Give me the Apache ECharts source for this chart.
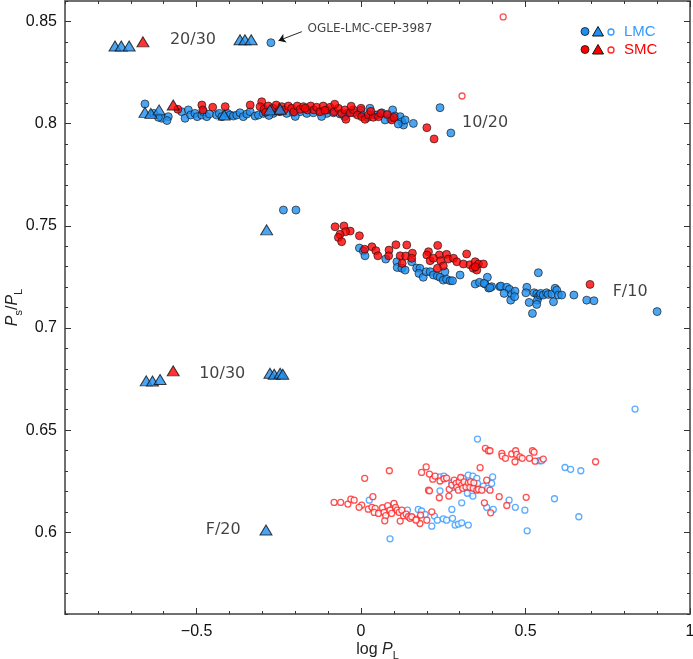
<!DOCTYPE html>
<html>
<head>
<meta charset="utf-8">
<script src="https://cdn.jsdelivr.net/npm/echarts@6/dist/echarts.min.js"></script>
<style>
  html, body { margin: 0; padding: 0; background: #fff; }
  #main { width: 693px; height: 659px; }
</style>
</head>
<body>
<div id="main"></div>
<script>
// axis ticks
var xMajor = [-0.5, 0, 0.5, 1];
var yMajor = [0.6, 0.65, 0.7, 0.75, 0.8, 0.85];

// LMC filled circles (10/20, F/10 and OGLE-LMC-CEP-3987)
var lmcFilled = [
  [-0.274, 0.8396],
  [-0.657, 0.8096], [-0.606, 0.8026], [-0.586, 0.8034], [-0.616, 0.8031], [-0.545, 0.8058], [-0.535, 0.8026],
  [-0.525, 0.8067], [-0.518, 0.8042], [-0.505, 0.805], [-0.498, 0.8034], [-0.484, 0.8042], [-0.479, 0.8058],
  [-0.469, 0.8034], [-0.461, 0.8047], [-0.439, 0.8042], [-0.431, 0.805], [-0.423, 0.8034], [-0.406, 0.805],
  [-0.398, 0.8042], [-0.388, 0.8037], [-0.378, 0.8042], [-0.368, 0.8053], [-0.358, 0.8034], [-0.347, 0.8047],
  [-0.337, 0.8058], [-0.322, 0.8037], [-0.312, 0.8042], [-0.297, 0.805], [-0.267, 0.805], [-0.246, 0.8058],
  [-0.226, 0.805], [-0.206, 0.8053], [-0.185, 0.8058], [-0.165, 0.805], [-0.145, 0.8053], [-0.125, 0.8058],
  [-0.104, 0.805], [-0.084, 0.8053], [-0.064, 0.8047], [-0.043, 0.805], [-0.023, 0.8053], [-0.003, 0.805],
  [0.027, 0.8075], [0.043, 0.8042], [0.048, 0.8042], [0.063, 0.8053], [0.078, 0.8042], [0.096, 0.8067],
  [0.103, 0.8037], [0.119, 0.8034], [0.124, 0.8009], [0.129, 0.7993], [0.134, 0.8018], [0.159, 0.8001],
  [0.088, 0.8026], [0.073, 0.8018], [0.113, 0.7998], [0.240, 0.8078], [0.273, 0.7954],
  [-0.05, 0.8035], [0.0, 0.8065], [0.02, 0.803], [-0.12, 0.8035], [-0.2, 0.8035], [-0.28, 0.804],
  [-0.59, 0.8015], [-0.63, 0.805],
  [-0.236, 0.7577], [-0.198, 0.7577], [-0.005, 0.7391], [0.007, 0.7376], [0.012, 0.7353], [0.075, 0.7337],
  [0.109, 0.7324], [0.110, 0.7296], [0.124, 0.7292], [0.134, 0.7283], [0.154, 0.7324], [0.169, 0.7293],
  [0.179, 0.7292], [0.176, 0.7267], [0.189, 0.7248], [0.198, 0.7275], [0.210, 0.7275], [0.220, 0.7259],
  [0.232, 0.7254], [0.240, 0.7248], [0.255, 0.7275], [0.250, 0.7234], [0.260, 0.7238], [0.271, 0.7231],
  [0.278, 0.7231], [0.301, 0.7259], [0.347, 0.7215], [0.360, 0.7223], [0.377, 0.7215], [0.384, 0.7248],
  [0.388, 0.7195], [0.397, 0.7202], [0.422, 0.7202], [0.374, 0.7218], [0.392, 0.7197], [0.425, 0.7205],
  [0.443, 0.7199], [0.451, 0.7189], [0.435, 0.7169], [0.458, 0.7164], [0.468, 0.718], [0.455, 0.7136],
  [0.467, 0.7153], [0.504, 0.7199], [0.501, 0.7172], [0.539, 0.727], [0.511, 0.7125], [0.521, 0.7071],
  [0.526, 0.7172], [0.534, 0.7166], [0.539, 0.7153], [0.536, 0.7136], [0.534, 0.7115], [0.544, 0.716],
  [0.546, 0.7169], [0.554, 0.7161], [0.564, 0.7172], [0.569, 0.7164], [0.580, 0.7166], [0.585, 0.7128],
  [0.590, 0.7194], [0.595, 0.7185], [0.600, 0.7161], [0.610, 0.7161], [0.647, 0.7161], [0.686, 0.7136],
  [0.708, 0.7133], [0.9, 0.708]
];

// SMC filled circles (10/20 and F/10)
var smcFilled = [
  [-0.557, 0.807], [-0.484, 0.8091], [-0.481, 0.8067], [-0.451, 0.808], [-0.413, 0.8083], [-0.337, 0.8091],
  [-0.302, 0.8107], [-0.307, 0.8083], [-0.295, 0.807], [-0.282, 0.8086], [-0.267, 0.8075], [-0.258, 0.8091],
  [-0.241, 0.8083], [-0.234, 0.8067], [-0.221, 0.8086], [-0.211, 0.8075], [-0.204, 0.8058], [-0.194, 0.8086],
  [-0.185, 0.807], [-0.175, 0.8083], [-0.163, 0.8067], [-0.153, 0.8086], [-0.143, 0.8067], [-0.135, 0.808],
  [-0.125, 0.8058], [-0.115, 0.8086], [-0.104, 0.8067], [-0.094, 0.808], [-0.082, 0.8058], [-0.069, 0.8075],
  [-0.059, 0.805], [-0.049, 0.8067], [-0.046, 0.8021], [-0.033, 0.8053], [-0.023, 0.8067], [-0.011, 0.8042],
  [0.002, 0.8034], [0.012, 0.8021], [0.022, 0.8042], [0.037, 0.8031], [0.053, 0.8034], [0.093, 0.8018],
  [0.2, 0.798], [0.222, 0.7925],
  [-0.08, 0.8095], [-0.03, 0.8085], [0.0, 0.8075], [0.03, 0.806], [-0.11, 0.8065], [-0.17, 0.8075],
  [-0.25, 0.806], [-0.29, 0.8055], [0.06, 0.805], [0.08, 0.8045], [0.1, 0.803],
  [-0.079, 0.7495], [-0.052, 0.7499], [-0.033, 0.7474], [-0.047, 0.7471], [-0.064, 0.7458], [-0.069, 0.7443],
  [-0.059, 0.7422], [-0.005, 0.7451], [0.011, 0.7385], [0.033, 0.7397], [0.045, 0.7378], [0.051, 0.7353],
  [0.085, 0.7381], [0.084, 0.7353], [0.106, 0.7407], [0.139, 0.7406], [0.119, 0.7353], [0.136, 0.7352],
  [0.156, 0.7366], [0.154, 0.7341], [0.125, 0.7316], [0.205, 0.7373], [0.200, 0.7357], [0.210, 0.7329],
  [0.238, 0.7357], [0.233, 0.7404], [0.220, 0.7341], [0.260, 0.736], [0.265, 0.7337], [0.242, 0.7329],
  [0.281, 0.7341], [0.291, 0.7324], [0.250, 0.7303], [0.232, 0.7292], [0.321, 0.7362], [0.311, 0.7313],
  [0.331, 0.7309], [0.347, 0.7324], [0.357, 0.7313], [0.372, 0.7313], [0.341, 0.7292], [0.352, 0.7283],
  [0.347, 0.7299], [0.696, 0.7213]
];

var lmcTriangles = [
  [-0.748, 0.838], [-0.729, 0.838], [-0.705, 0.838], [-0.368, 0.841], [-0.353, 0.841], [-0.334, 0.841],
  [-0.657, 0.8055], [-0.639, 0.805], [-0.614, 0.8067], [-0.416, 0.8042], [-0.277, 0.8067], [-0.246, 0.807],
  [-0.287, 0.748],
  [-0.653, 0.6741], [-0.634, 0.674], [-0.611, 0.6748], [-0.277, 0.6778], [-0.264, 0.6773], [-0.246, 0.6778],
  [-0.238, 0.6773],
  [-0.289, 0.6011]
];

var smcTriangles = [[-0.663, 0.840], [-0.571, 0.8091], [-0.571, 0.679]];

// open circles (the PS/PL ~ 0.60-0.65 sequence)
var lmcOpen = [
  [0.025, 0.6157], [0.088, 0.5968], [0.100, 0.6138], [0.141, 0.6108], [0.174, 0.6112], [0.184, 0.6104],
  [0.195, 0.6087], [0.215, 0.603], [0.223, 0.6079], [0.232, 0.6059], [0.250, 0.6066], [0.260, 0.6059],
  [0.276, 0.6112], [0.278, 0.6068], [0.286, 0.6035], [0.296, 0.604], [0.306, 0.6046], [0.306, 0.6144],
  [0.326, 0.6035], [0.240, 0.6203], [0.240, 0.6271], [0.252, 0.6275], [0.276, 0.6242], [0.281, 0.622],
  [0.311, 0.6264], [0.326, 0.628], [0.340, 0.6275], [0.352, 0.6264], [0.336, 0.6191], [0.340, 0.6177],
  [0.323, 0.6191], [0.354, 0.6239], [0.372, 0.6226], [0.385, 0.6215], [0.397, 0.6239], [0.400, 0.6271],
  [0.382, 0.6122], [0.402, 0.6112], [0.354, 0.6456], [0.450, 0.6157], [0.469, 0.6122], [0.498, 0.6108],
  [0.505, 0.6007], [0.542, 0.635], [0.549, 0.635], [0.588, 0.6164], [0.620, 0.6317], [0.637, 0.6308],
  [0.668, 0.6301], [0.662, 0.6076], [0.833, 0.6603]
];

var smcOpen = [
  [-0.082, 0.6146], [-0.062, 0.6146], [-0.040, 0.6138], [-0.031, 0.6162], [-0.021, 0.6157], [0.002, 0.6133],
  [-0.006, 0.6122], [0.011, 0.6264], [0.036, 0.6174], [0.022, 0.6113], [0.033, 0.6122], [0.043, 0.6117],
  [0.040, 0.6097], [0.053, 0.6092], [0.065, 0.612], [0.070, 0.6097], [0.075, 0.6081], [0.072, 0.6056],
  [0.081, 0.613], [0.086, 0.6301], [0.088, 0.6108], [0.093, 0.6092], [0.100, 0.6141], [0.105, 0.6122],
  [0.110, 0.6108], [0.116, 0.6097], [0.119, 0.6055], [0.129, 0.6081], [0.124, 0.6108], [0.137, 0.6089],
  [0.144, 0.6076], [0.149, 0.6068], [0.154, 0.6076], [0.169, 0.6064], [0.179, 0.6043], [0.167, 0.6059],
  [0.181, 0.6084], [0.200, 0.6059], [0.215, 0.61], [0.184, 0.6293], [0.198, 0.632], [0.208, 0.6285],
  [0.218, 0.626], [0.225, 0.6275], [0.240, 0.6251], [0.205, 0.6206], [0.208, 0.6203], [0.238, 0.6169],
  [0.252, 0.6262], [0.260, 0.6265], [0.268, 0.621], [0.267, 0.6177], [0.276, 0.6231], [0.283, 0.6255],
  [0.289, 0.6239], [0.291, 0.622], [0.296, 0.6206], [0.298, 0.6247], [0.303, 0.6268], [0.306, 0.6231],
  [0.309, 0.6215], [0.313, 0.6247], [0.319, 0.6222], [0.326, 0.6242], [0.331, 0.622], [0.333, 0.6247],
  [0.341, 0.6215], [0.343, 0.6242], [0.352, 0.6206], [0.357, 0.621], [0.362, 0.6316], [0.367, 0.6206],
  [0.382, 0.6255], [0.392, 0.6206], [0.375, 0.6144], [0.394, 0.6095], [0.420, 0.6174], [0.443, 0.6131],
  [0.502, 0.6171], [0.378, 0.6411], [0.387, 0.6399], [0.392, 0.6399], [0.428, 0.6386], [0.429, 0.6373],
  [0.439, 0.6362], [0.458, 0.6383], [0.470, 0.6399], [0.473, 0.6381], [0.483, 0.6369], [0.490, 0.6362],
  [0.468, 0.6345], [0.512, 0.6362], [0.521, 0.6399], [0.526, 0.6392], [0.529, 0.6348], [0.554, 0.6358],
  [0.713, 0.6345], [0.432, 0.8522], [0.307, 0.8135]
];

// text annotations [x, y, text]
var notes = [
  [-0.511, 0.841, '20/30'],
  [0.377, 0.8003, '10/20'],
  [0.818, 0.7176, 'F/10'],
  [-0.422, 0.6774, '10/30'],
  [-0.419, 0.6011, 'F/20']
];
var oglePos = [0.027, 0.8463];
var arrowLine = [[-0.18, 0.845], [-0.251, 0.8406]];

var BLUE = '#1e8ff0';
var RED = '#ff0000';
var BLUE_OPEN = '#3399ff';
var RED_OPEN = '#ff2424';
var AXIS = '#707070';
var TICK = '#333';

function majorX (pos, withLabel) {
  return {
    type: 'value', min: -0.9, max: 1, position: pos,
    axisLine: { show: true, onZero: false, lineStyle: { color: AXIS, width: 2 } },
    axisTick: { show: true, inside: true, length: 6, customValues: xMajor, lineStyle: { color: TICK } },
    axisLabel: {
      show: withLabel, customValues: xMajor, margin: 10, fontSize: 16, color: '#111',
      fontFamily: 'Liberation Sans',
      formatter: function (v) { return String(v).replace('-', '\u2212') }
    },
    splitLine: { show: false }
  }
}
function minorX (pos) {
  return {
    type: 'value', min: -0.9, max: 1, interval: 0.1, position: pos,
    axisLine: { show: false, onZero: false },
    axisTick: { show: true, inside: true, length: 3, lineStyle: { color: TICK } },
    axisLabel: { show: false },
    splitLine: { show: false }
  }
}
function majorY (pos, withLabel) {
  return {
    type: 'value', min: 0.56, max: 0.86, position: pos,
    axisLine: { show: true, onZero: false, lineStyle: { color: AXIS, width: 2 } },
    axisTick: { show: true, inside: true, length: 6, customValues: yMajor, lineStyle: { color: TICK } },
    axisLabel: {
      show: withLabel, customValues: yMajor, margin: 8, fontSize: 16, color: '#111',
      fontFamily: 'Liberation Sans'
    },
    splitLine: { show: false }
  }
}
function minorY (pos) {
  return {
    type: 'value', min: 0.56, max: 0.86, interval: 0.01, position: pos,
    axisLine: { show: false, onZero: false },
    axisTick: { show: true, inside: true, length: 3, lineStyle: { color: TICK } },
    axisLabel: { show: false },
    splitLine: { show: false }
  }
}

var nameStyle = {
  fontSize: 16, color: '#222', fontFamily: 'Liberation Sans', lineHeight: 22,
  rich: {
    i: { fontStyle: 'italic', fontSize: 16, lineHeight: 22, fontFamily: 'Liberation Sans', color: '#222' },
    s: { fontSize: 11, lineHeight: 10, verticalAlign: 'bottom', fontFamily: 'Liberation Sans', color: '#222' }
  }
};

var xBottom = majorX('bottom', true);
xBottom.name = 'log {i|P}{s|L}';
xBottom.nameLocation = 'middle';
xBottom.nameGap = 25;
xBottom.nameMoveOverlap = false;
xBottom.nameTextStyle = nameStyle;

var yLeft = majorY('left', true);
yLeft.name = '{i|P}{s|s}/{i|P}{s|L}';
yLeft.nameLocation = 'middle';
yLeft.nameRotate = 90;
yLeft.nameGap = 41;
yLeft.nameMoveOverlap = false;
yLeft.nameTextStyle = nameStyle;

var chart = echarts.init(document.getElementById('main'));

var option = {
  animation: false,
  backgroundColor: '#fff',
  grid: { left: 65, right: 3, top: 1, bottom: 45, containLabel: false, outerBoundsMode: 'none' },
  xAxis: [xBottom, minorX('bottom'), majorX('top', false), minorX('top')],
  yAxis: [yLeft, minorY('left'), majorY('right', false), minorY('right')],
  series: [
    {
      name: 'LMC open', type: 'scatter', data: lmcOpen, symbol: 'circle', symbolSize: 6,
      itemStyle: { color: '#fff', borderColor: BLUE_OPEN, borderWidth: 1.3 }
    },
    {
      name: 'SMC open', type: 'scatter', data: smcOpen, symbol: 'circle', symbolSize: 6,
      itemStyle: { color: '#fff', borderColor: RED_OPEN, borderWidth: 1.3 }
    },
    {
      name: 'LMC', type: 'scatter', data: lmcFilled, symbol: 'circle', symbolSize: 8,
      itemStyle: { color: BLUE, borderColor: '#111', borderWidth: 0.8 }
    },
    {
      name: 'SMC', type: 'scatter', data: smcFilled, symbol: 'circle', symbolSize: 8,
      itemStyle: { color: RED, borderColor: '#111', borderWidth: 0.8 }
    },
    {
      name: 'LMC tri', type: 'scatter', data: lmcTriangles, symbol: 'triangle', symbolSize: [12, 10],
      itemStyle: { color: BLUE, borderColor: '#111', borderWidth: 1 }
    },
    {
      name: 'SMC tri', type: 'scatter', data: smcTriangles, symbol: 'triangle', symbolSize: [12, 10],
      itemStyle: { color: RED, borderColor: '#111', borderWidth: 1 }
    },
    {
      name: 'notes', type: 'scatter', symbolSize: 1, silent: true,
      itemStyle: { color: 'transparent' },
      data: notes.map(function (n) { return { value: [n[0], n[1]], name: n[2] } })
        .concat([{ value: oglePos, name: 'OGLE-LMC-CEP-3987', label: { fontSize: 12 } }]),
      label: {
        show: true, position: 'inside', formatter: '{b}',
        fontSize: 16, color: '#111', fontFamily: 'DejaVu Sans'
      }
    },
    {
      type: 'lines', coordinateSystem: 'cartesian2d', silent: true,
      symbol: ['none', 'arrow'], symbolSize: 7,
      lineStyle: { color: '#111', width: 0.9, opacity: 1 },
      data: [{ coords: arrowLine }]
    }
  ],
  graphic: [
    { type: 'circle', shape: { cx: 585, cy: 31.5, r: 4 }, style: { fill: BLUE, stroke: '#111', lineWidth: 0.8 } },
    { type: 'polygon', shape: { points: [[592.5, 36], [603.5, 36], [598, 26.5]] }, style: { fill: BLUE, stroke: '#111', lineWidth: 1 } },
    { type: 'circle', shape: { cx: 611, cy: 32, r: 3 }, style: { fill: '#fff', stroke: BLUE_OPEN, lineWidth: 1.3 } },
    { type: 'text', x: 624, y: 32, style: { text: 'LMC', fill: BLUE_OPEN, fontSize: 15, fontFamily: 'Liberation Sans', verticalAlign: 'middle' } },
    { type: 'circle', shape: { cx: 585, cy: 49.5, r: 4 }, style: { fill: RED, stroke: '#111', lineWidth: 0.8 } },
    { type: 'polygon', shape: { points: [[592.5, 54], [603.5, 54], [598, 44.5]] }, style: { fill: RED, stroke: '#111', lineWidth: 1 } },
    { type: 'circle', shape: { cx: 611, cy: 50, r: 3 }, style: { fill: '#fff', stroke: RED_OPEN, lineWidth: 1.3 } },
    { type: 'text', x: 624, y: 50, style: { text: 'SMC', fill: RED, fontSize: 15, fontFamily: 'Liberation Sans', verticalAlign: 'middle' } }
  ]
};

chart.setOption(option);
</script>
</body>
</html>
